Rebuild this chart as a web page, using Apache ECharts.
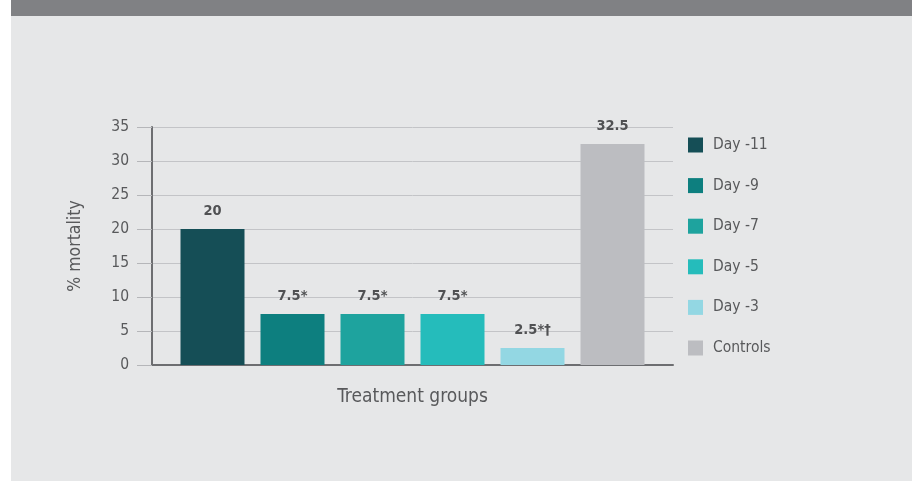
<!DOCTYPE html>
<html><head><meta charset="utf-8">
<script src="https://cdn.jsdelivr.net/npm/echarts@6/dist/echarts.min.js"></script>
<style>
html,body{margin:0;padding:0;background:#ffffff;width:915px;height:482px;overflow:hidden;}
#hdr{position:absolute;left:11px;top:0;width:901px;height:16px;background:#808184;}
#bg{position:absolute;left:11px;top:16px;width:901px;height:465px;background:#e6e7e8;}
#chart{position:absolute;left:0;top:0;width:915px;height:482px;}
</style></head>
<body>
<div id="hdr"></div><div id="bg"></div><div id="chart"></div>
<script>
var categories = ['Treatment groups'];
var seriesNames = ['Day -11', 'Day -9', 'Day -7', 'Day -5', 'Day -3', 'Controls'];
var seriesValues = [20, 7.5, 7.5, 7.5, 2.5, 32.5];
var valueLabels = ['20', '7.5*', '7.5*', '7.5*', '2.5*†', '32.5'];
var yTicks = [0, 5, 10, 15, 20, 25, 30, 35];
var colors = ['#154e56', '#0d7f7f', '#1ea39e', '#25bcbb', '#93d7e3', '#bcbdc1'];

var FONT = "'DejaVu Sans Condensed', 'Liberation Sans Narrow', sans-serif";
var chart = echarts.init(document.getElementById('chart'), null, {renderer: 'canvas'});
var series = seriesNames.map(function (name, i) {
  return {
    name: name,
    type: 'bar',
    data: [seriesValues[i]],
    barWidth: 64,
    barGap: '25%',
    itemStyle: {color: colors[i]},
    label: {
      show: true,
      position: 'top',
      distance: 10,
      formatter: function () { return valueLabels[i]; },
      color: '#505153',
      fontFamily: FONT,
      fontWeight: 'bold',
      fontSize: 14.5
    }
  };
});
chart.setOption({
  backgroundColor: 'transparent',
  animation: false,
  color: colors,
  grid: {left: 152, right: 242, top: 127, bottom: 117, containLabel: false},
  legend: {
    orient: 'vertical',
    left: 683,
    top: 132,
    itemWidth: 15,
    itemHeight: 15,
    itemGap: 24.6,
    icon: 'rect',
    data: seriesNames,
    textStyle: {color: '#58595b', fontFamily: FONT, fontSize: 15.5, padding: [0, 0, 0, 5]}
  },
  xAxis: {
    type: 'category',
    data: categories,
    axisTick: {show: false},
    axisLine: {lineStyle: {color: '#6d6e71', width: 2}},
    axisLabel: {color: '#58595b', fontFamily: FONT, fontSize: 19, margin: 23}
  },
  yAxis: {
    type: 'value',
    min: yTicks[0],
    max: yTicks[yTicks.length - 1],
    interval: 5,
    name: '% mortality',
    nameLocation: 'middle',
    nameRotate: 90,
    nameGap: 68,
    nameTextStyle: {color: '#58595b', fontFamily: FONT, fontSize: 17.5},
    axisLine: {show: true, lineStyle: {color: '#6d6e71', width: 2}},
    axisTick: {show: true, length: 15, lineStyle: {color: '#b5b6b9', width: 1}},
    axisLabel: {color: '#58595b', fontFamily: FONT, fontSize: 15.5, margin: 23},
    splitLine: {show: true, lineStyle: {color: '#c3c4c7', width: 1}}
  },
  series: series
});
</script>
</body></html>
